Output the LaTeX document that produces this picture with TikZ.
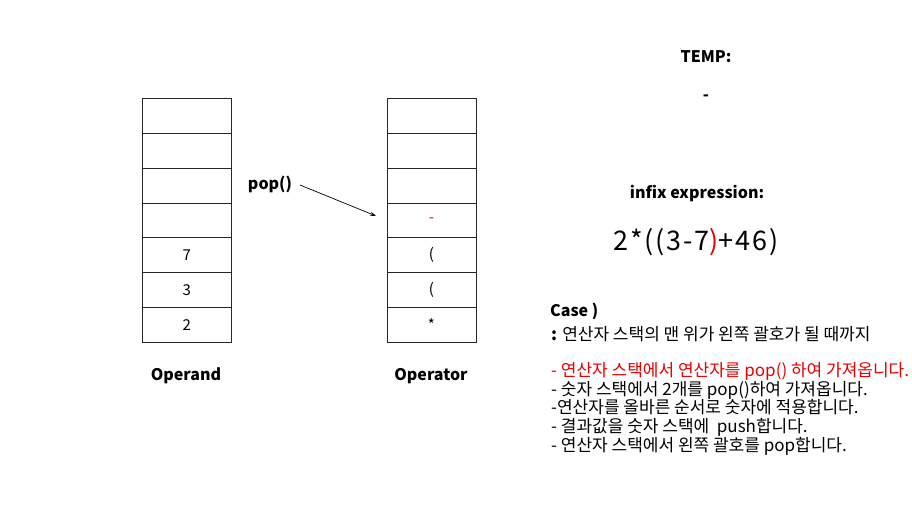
\documentclass[tikz,border=0pt]{standalone}
\usepackage{fontspec}
\setmainfont{Noto Sans CJK KR}
\usetikzlibrary{arrows.meta}
\definecolor{myred}{RGB}{230,0,0}
\tikzset{
  cell/.style={draw=black!85, line width=0.8pt, minimum width=89pt, minimum height=34.9pt, inner sep=0pt, font=\fontsize{15}{15}\selectfont, anchor=north west},
  lbl/.style={font=\bfseries\fontsize{16}{16}\selectfont, inner sep=0pt},
  body/.style={font=\fontsize{17}{18.7}\selectfont, inner sep=0pt, anchor=north west, align=left},
}
\begin{document}
\begin{tikzpicture}[x=1pt,y=-1pt]
\useasboundingbox[fill=white] (0,0) rectangle (912,508);
% Operand stack
\foreach \i/\t in {0/,1/,2/,3/,4/7,5/3,6/2} {
  \node[cell] (a\i) at (142,{98+\i*34.857}) {\t};
}
\foreach \i/\t in {0/,1/,2/,3/{\textcolor{myred}{-}},4/(,5/(,6/*} {
  \node[cell] (b\i) at (386.5,{98+\i*34.857}) {\t};
}
\node[lbl] (opd) at (186,376) {Operand};
\node[lbl] (opr) at (431,376) {Operator};
\node[lbl] (pop) at (270,184) {pop()};
\coordinate (ps) at (300,185);
\coordinate (pe) at (376,216);
\draw[-{Stealth[length=6pt,width=4pt]}, line width=0.7pt] (ps) -- (pe);
\node[lbl] (temp) at (706,57) {TEMP:};
\node[lbl] (tv) at (706,98) {-};
\node[lbl] (infix) at (697,194) {infix expression:};
\node[font=\fontsize{27}{27}\selectfont\addfontfeature{LetterSpace=7}, inner sep=0pt] (expr) at (696,242) {2*((3-7\textcolor{myred}{)}+46)};
\node[lbl, anchor=north west] (case) at (550,303) {Case )};
\node[body] (desc) at (551,326) {\textbf{:} 연산자 스택의 맨 위가 왼쪽 괄호가 될 때까지\\[17.5pt]
\textcolor{myred}{- 연산자 스택에서 연산자를 pop() 하여 가져옵니다.}\\
- 숫자 스택에서 2개를 pop()하여 가져옵니다.\\
-연산자를 올바른 순서로 숫자에 적용합니다.\\
- 결과값을 숫자 스택에 \ push합니다.\\
- 연산자 스택에서 왼쪽 괄호를 pop합니다.};
\end{tikzpicture}
\end{document}
